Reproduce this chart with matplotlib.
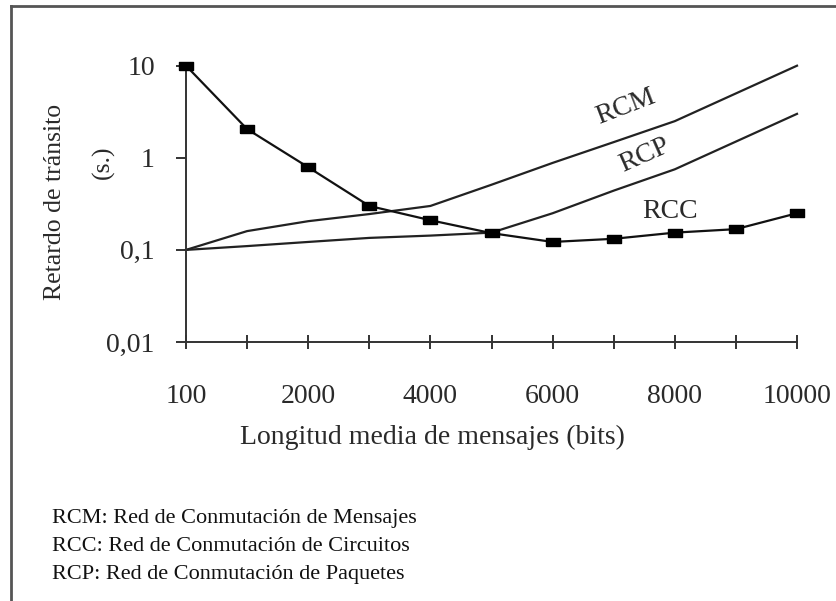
import matplotlib
matplotlib.use("Agg")
import matplotlib.pyplot as plt
from matplotlib.lines import Line2D

# ---- data ----
x_values = [100, 1000, 2000, 3000, 4000, 5000, 6000, 7000, 8000, 9000, 10000]
x_tick_labels = ["100", "", "2000", "", "4000", "", "6000", "", "8000", "", "10000"]
rcc = [10, 2.05, 0.79, 0.30, 0.21, 0.152, 0.122, 0.132, 0.154, 0.168, 0.25]
rcm = [0.1, 0.16, 0.205, 0.245, 0.30, 0.51, 0.88, 1.48, 2.5, 5.0, 10.0]
rcp = [0.1, 0.11, 0.122, 0.135, 0.143, 0.154, 0.25, 0.44, 0.75, 1.5, 3.0]
y_ticks = [0.01, 0.1, 1, 10]
y_tick_labels = ["0,01", "0,1", "1", "10"]
legend_lines = ["RCM: Red de Conmutación de Mensajes",
                "RCC: Red de Conmutación de Circuitos",
                "RCP: Red de Conmutación de Paquetes"]

serif = ["Liberation Serif", "DejaVu Serif"]
plt.rcParams["font.family"] = serif

W, H = 837, 601
fig = plt.figure(figsize=(W / 100, H / 100), dpi=100)
left, right, top, bottom = 186, 797, 65.7, 342
ax = fig.add_axes([left / W, 1 - bottom / H, (right - left) / W, (bottom - top) / H])

pos = list(range(len(x_values)))
txt = "#2a2a2a"
lw = 1.6
rect = [(-1, -0.6), (1, -0.6), (1, 0.6), (-1, 0.6), (-1, -0.6)]
ax.plot(pos, rcm, color="#222222", lw=lw, solid_joinstyle="round", clip_on=False)
ax.plot(pos, rcp, color="#222222", lw=lw, solid_joinstyle="round", clip_on=False)
ax.plot(pos, rcc, color="#111111", lw=lw, marker=rect, markersize=9.5,
        markerfacecolor="black", markeredgecolor="black", solid_joinstyle="round",
        clip_on=False, zorder=5)

ax.set_yscale("log")
ax.set_ylim(0.01, 10)
ax.set_xlim(0, len(x_values) - 1)
ax.set_yticks(y_ticks)
ax.set_yticklabels(y_tick_labels)
ax.yaxis.set_minor_locator(matplotlib.ticker.NullLocator())
ax.set_xticks(pos)
ax.set_xticklabels(x_tick_labels)

for s in ["top", "right"]:
    ax.spines[s].set_visible(False)
for s in ["left", "bottom"]:
    ax.spines[s].set_linewidth(1.4)
    ax.spines[s].set_color("#333333")

ax.tick_params(axis="y", direction="out", length=7.5, width=1.4, color="#333333",
               labelsize=20, labelcolor=txt, pad=15)
ax.tick_params(axis="x", direction="inout", length=10, width=1.4, color="#333333",
               labelsize=20, labelcolor=txt, pad=25)

# axis labels
fig.text(55 / W, 1 - 202 / H, "Retardo de tránsito", rotation=90, ha="center", va="center",
         fontsize=18.5, color=txt)
fig.text(103 / W, 1 - 162 / H, "(s.)", rotation=90, ha="center", va="center",
         fontsize=18.5, color=txt)
fig.text(432 / W, 1 - 437 / H, "Longitud media de mensajes (bits)", ha="center", va="center",
         fontsize=20, color=txt)

# series labels
ax.text(7.2, 3.6, "RCM", rotation=21, ha="center", va="center", fontsize=20, color=txt)
ax.text(7.5, 1.05, "RCP", rotation=24, ha="center", va="center", fontsize=20, color=txt)
ax.text(7.92, 0.26, "RCC", rotation=0, ha="center", va="center", fontsize=20, color=txt)

# legend text
for i, line in enumerate(legend_lines):
    fig.text(52 / W, 1 - (518 + 28.5 * i) / H, line, ha="left", va="center",
             fontsize=16, color="#111111")

# frame (left and top)
fig.add_artist(Line2D([11 / W, 11 / W], [0, 1 - 6 / H], transform=fig.transFigure,
                      color="#555555", lw=2))
fig.add_artist(Line2D([11 / W, 1], [1 - 6 / H, 1 - 6 / H], transform=fig.transFigure,
                      color="#555555", lw=2))

fig.savefig("out.png", dpi=100, facecolor="white")
